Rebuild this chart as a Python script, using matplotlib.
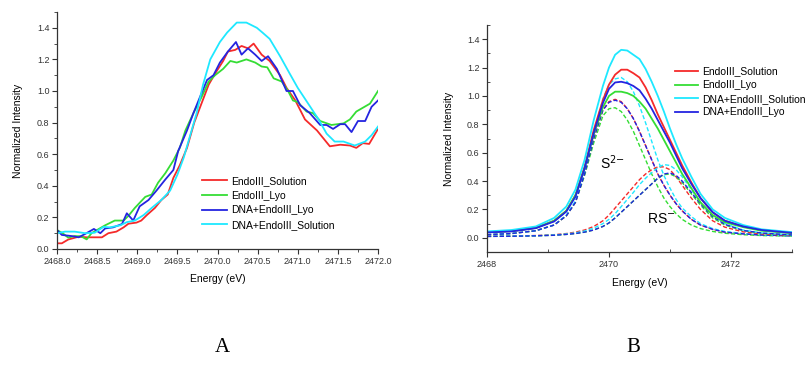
import matplotlib
matplotlib.use('Agg')
import matplotlib.pyplot as plt
from matplotlib.ticker import MultipleLocator

# --- Panel A: raw XANES spectra ------------------------------------------------
e_sol = [2468.0, 2468.06, 2468.14, 2468.27, 2468.37, 2468.47, 2468.56, 2468.64, 2468.74, 2468.83,
         2468.89, 2468.99, 2469.05, 2469.12, 2469.22, 2469.30, 2469.38, 2469.45, 2469.53, 2469.62,
         2469.71, 2469.80, 2469.89, 2469.97, 2470.07, 2470.13, 2470.22, 2470.30, 2470.38, 2470.45,
         2470.55, 2470.65, 2470.78, 2470.86, 2470.97, 2471.09, 2471.24, 2471.40, 2471.53, 2471.65,
         2471.73, 2471.81, 2471.89, 2472.0]
i_sol = [0.036, 0.036, 0.06, 0.078, 0.074, 0.074, 0.074, 0.10, 0.11, 0.137,
         0.16, 0.167, 0.18, 0.215, 0.26, 0.31, 0.345, 0.45, 0.53, 0.64,
         0.80, 0.92, 1.04, 1.11, 1.19, 1.25, 1.26, 1.285, 1.27, 1.30,
         1.23, 1.19, 1.10, 1.02, 0.94, 0.82, 0.75, 0.65, 0.66, 0.655,
         0.64, 0.67, 0.665, 0.76]

e_lyo = [2468.0, 2468.07, 2468.14, 2468.22, 2468.30, 2468.37, 2468.43, 2468.60, 2468.72, 2468.83,
         2468.89, 2468.97, 2469.10, 2469.18, 2469.26, 2469.35, 2469.45, 2469.53, 2469.60, 2469.70,
         2469.80, 2469.89, 2469.97, 2470.07, 2470.16, 2470.24, 2470.36, 2470.47, 2470.55, 2470.62,
         2470.70, 2470.80, 2470.88, 2470.94, 2471.0, 2471.11, 2471.19, 2471.28, 2471.42, 2471.57,
         2471.65, 2471.73, 2471.90, 2472.0]
i_lyo = [0.12, 0.10, 0.072, 0.082, 0.08, 0.061, 0.10, 0.15, 0.18, 0.18,
         0.21, 0.26, 0.33, 0.345, 0.42, 0.48, 0.56, 0.64, 0.75, 0.86,
         0.96, 1.06, 1.10, 1.14, 1.19, 1.18, 1.20, 1.18, 1.155, 1.15,
         1.08, 1.06, 1.0, 0.94, 0.93, 0.87, 0.86, 0.81, 0.785, 0.795,
         0.82, 0.87, 0.92, 1.0]

e_dna_lyo = [2468.0, 2468.06, 2468.18, 2468.27, 2468.35, 2468.46, 2468.54, 2468.60, 2468.70, 2468.81,
             2468.87, 2468.95, 2469.03, 2469.14, 2469.24, 2469.35, 2469.45, 2469.51, 2469.62, 2469.70,
             2469.78, 2469.87, 2469.95, 2470.03, 2470.13, 2470.23, 2470.30, 2470.38, 2470.47, 2470.55,
             2470.63, 2470.74, 2470.86, 2470.94, 2471.03, 2471.15, 2471.28, 2471.36, 2471.44, 2471.53,
             2471.59, 2471.67, 2471.75, 2471.84, 2471.92, 2472.0]
i_dna_lyo = [0.12, 0.089, 0.082, 0.074, 0.095, 0.127, 0.10, 0.13, 0.137, 0.158,
             0.226, 0.18, 0.27, 0.31, 0.37, 0.44, 0.50, 0.62, 0.75, 0.86,
             0.96, 1.07, 1.10, 1.18, 1.25, 1.31, 1.23, 1.27, 1.23, 1.19,
             1.22, 1.14, 1.0, 1.0, 0.91, 0.86, 0.785, 0.785, 0.76, 0.79,
             0.79, 0.74, 0.81, 0.81, 0.90, 0.94]

e_dna_sol = [2468.0, 2468.10, 2468.22, 2468.35, 2468.47, 2468.58, 2468.66, 2468.79, 2468.87, 2468.97,
             2469.08, 2469.18, 2469.30, 2469.41, 2469.50, 2469.58, 2469.66, 2469.74, 2469.82, 2469.91,
             2470.03, 2470.12, 2470.24, 2470.36, 2470.49, 2470.56, 2470.65, 2470.78, 2470.90, 2471.0,
             2471.13, 2471.26, 2471.36, 2471.46, 2471.57, 2471.71, 2471.84, 2471.92, 2472.0]
i_dna_sol = [0.10, 0.11, 0.11, 0.10, 0.103, 0.14, 0.137, 0.15, 0.17, 0.18,
             0.215, 0.26, 0.31, 0.37, 0.47, 0.58, 0.72, 0.86, 1.04, 1.20,
             1.31, 1.37, 1.433, 1.433, 1.40, 1.37, 1.33, 1.22, 1.11, 1.02,
             0.92, 0.82, 0.73, 0.68, 0.68, 0.655, 0.68, 0.72, 0.775]

# --- Panel B: fitted spectra and S2- / RS- components --------------------------
e_fit = [2468.0, 2468.4, 2468.8, 2469.1, 2469.3, 2469.45, 2469.6, 2469.75, 2469.9, 2470.0,
         2470.1, 2470.2, 2470.3, 2470.4, 2470.5, 2470.6, 2470.7, 2470.8, 2470.9, 2471.0,
         2471.1, 2471.2, 2471.35, 2471.5, 2471.7, 2471.9, 2472.2, 2472.5, 2473.0]

fit_sol = [0.040, 0.048, 0.070, 0.12, 0.19, 0.30, 0.50, 0.76, 0.97, 1.08,
           1.15, 1.185, 1.185, 1.16, 1.13, 1.06, 0.97, 0.87, 0.78, 0.69,
           0.60, 0.51, 0.39, 0.28, 0.18, 0.12, 0.08, 0.055, 0.035]
fit_lyo = [0.040, 0.047, 0.070, 0.12, 0.19, 0.30, 0.49, 0.73, 0.92, 1.0,
           1.03, 1.03, 1.02, 1.0, 0.96, 0.91, 0.84, 0.77, 0.69, 0.61,
           0.53, 0.45, 0.35, 0.25, 0.16, 0.11, 0.075, 0.05, 0.033]
fit_dna_sol = [0.045, 0.055, 0.08, 0.14, 0.22, 0.34, 0.55, 0.83, 1.07, 1.20,
               1.29, 1.325, 1.32, 1.29, 1.26, 1.19, 1.10, 1.0, 0.89, 0.77,
               0.66, 0.56, 0.43, 0.31, 0.20, 0.14, 0.09, 0.06, 0.04]
fit_dna_lyo = [0.038, 0.045, 0.068, 0.115, 0.185, 0.29, 0.49, 0.74, 0.95, 1.05,
               1.095, 1.10, 1.09, 1.07, 1.04, 0.98, 0.91, 0.83, 0.75, 0.67,
               0.58, 0.49, 0.38, 0.28, 0.18, 0.12, 0.08, 0.055, 0.035]

s2_sol = [0.022, 0.03, 0.05, 0.09, 0.155, 0.25, 0.45, 0.70, 0.90, 0.96,
          0.976, 0.96, 0.91, 0.84, 0.75, 0.65, 0.55, 0.45, 0.37, 0.30,
          0.24, 0.19, 0.13, 0.09, 0.06, 0.04, 0.028, 0.02, 0.014]
s2_lyo = [0.022, 0.03, 0.05, 0.09, 0.155, 0.25, 0.44, 0.67, 0.86, 0.91,
          0.917, 0.89, 0.83, 0.75, 0.65, 0.55, 0.45, 0.36, 0.28, 0.22,
          0.17, 0.13, 0.09, 0.065, 0.045, 0.032, 0.022, 0.016, 0.012]
s2_dna_sol = [0.022, 0.03, 0.05, 0.09, 0.16, 0.26, 0.46, 0.74, 0.98, 1.08,
              1.12, 1.13, 1.10, 1.03, 0.93, 0.81, 0.68, 0.55, 0.44, 0.35,
              0.27, 0.21, 0.15, 0.10, 0.065, 0.045, 0.03, 0.02, 0.014]
s2_dna_lyo = [0.022, 0.03, 0.05, 0.09, 0.155, 0.25, 0.45, 0.70, 0.90, 0.955,
              0.97, 0.955, 0.91, 0.84, 0.75, 0.65, 0.55, 0.45, 0.37, 0.30,
              0.24, 0.19, 0.13, 0.09, 0.06, 0.04, 0.028, 0.02, 0.014]

rs_sol = [0.01, 0.012, 0.016, 0.022, 0.03, 0.04, 0.055, 0.08, 0.12, 0.16,
          0.21, 0.26, 0.31, 0.36, 0.41, 0.45, 0.48, 0.50, 0.50, 0.48,
          0.43, 0.37, 0.28, 0.20, 0.12, 0.075, 0.042, 0.028, 0.017]
rs_lyo = [0.01, 0.011, 0.014, 0.018, 0.024, 0.03, 0.04, 0.055, 0.08, 0.105,
          0.14, 0.18, 0.22, 0.26, 0.30, 0.34, 0.38, 0.42, 0.445, 0.45,
          0.43, 0.39, 0.31, 0.23, 0.14, 0.09, 0.05, 0.032, 0.019]
rs_dna_sol = [0.01, 0.012, 0.015, 0.02, 0.027, 0.035, 0.048, 0.068, 0.10, 0.13,
              0.17, 0.22, 0.27, 0.32, 0.375, 0.42, 0.46, 0.495, 0.516, 0.51,
              0.48, 0.43, 0.34, 0.25, 0.16, 0.10, 0.055, 0.035, 0.02]
rs_dna_lyo = [0.01, 0.011, 0.014, 0.018, 0.024, 0.03, 0.04, 0.055, 0.08, 0.105,
              0.14, 0.18, 0.22, 0.26, 0.30, 0.34, 0.38, 0.42, 0.45, 0.457,
              0.44, 0.40, 0.32, 0.24, 0.15, 0.095, 0.052, 0.034, 0.02]

# --- Style ---------------------------------------------------------------------
RED, GREEN, BLUE, CYAN = '#f52a2a', '#35dd35', '#2424e0', '#1ee8ff'
plt.rcParams['font.family'] = ['Liberation Sans', 'DejaVu Sans']
LW = 1.3
DASH = (0, (3, 1.6))


def style_axes(ax):
    ax.spines['top'].set_visible(False)
    ax.spines['right'].set_visible(False)
    for s in ('left', 'bottom'):
        ax.spines[s].set_linewidth(0.9)
        ax.spines[s].set_color('#333333')
    ax.tick_params(which='major', direction='out', length=3.5, width=0.8,
                   labelsize=6.5, colors='#333333', pad=2)
    ax.tick_params(which='minor', direction='out', length=2, width=0.6, colors='#333333')


fig = plt.figure(figsize=(8.11, 3.65), dpi=100)

# Panel A ------------------------------------------------------------------------
ax_a = fig.add_axes([57 / 811, 1 - 249 / 365, (378 - 57) / 811, (249 - 12) / 365])
ax_a.plot(e_sol, i_sol, color=RED, lw=LW, label='EndoIII_Solution')
ax_a.plot(e_lyo, i_lyo, color=GREEN, lw=LW, label='EndoIII_Lyo')
ax_a.plot(e_dna_lyo, i_dna_lyo, color=BLUE, lw=LW, label='DNA+EndoIII_Lyo')
ax_a.plot(e_dna_sol, i_dna_sol, color=CYAN, lw=LW, label='DNA+EndoIII_Solution')
ax_a.set_xlim(2468, 2472)
ax_a.set_ylim(0, 1.5)
ax_a.xaxis.set_major_locator(MultipleLocator(0.5))
ax_a.xaxis.set_minor_locator(MultipleLocator(0.25))
ax_a.yaxis.set_major_locator(MultipleLocator(0.2))
ax_a.yaxis.set_minor_locator(MultipleLocator(0.1))
ax_a.xaxis.set_major_formatter(lambda v, p: f'{v:.1f}')
ax_a.yaxis.set_major_formatter(lambda v, p: f'{v:.1f}')
style_axes(ax_a)
ax_a.set_xlabel('Energy (eV)', fontsize=7.5, labelpad=6)
ax_a.set_ylabel('Normalized Intensity', fontsize=7.5, labelpad=10)
ax_a.legend(loc='lower left', bbox_to_anchor=(0.434, 0.058), frameon=False, fontsize=7.5,
            handlelength=2.4, handletextpad=0.4, labelspacing=0.45, borderpad=0)

# Panel B ------------------------------------------------------------------------
ax_b = fig.add_axes([487 / 811, 1 - 252 / 365, (792 - 487) / 811, (252 - 25) / 365])
for comp, col in ((s2_sol, RED), (s2_lyo, GREEN), (s2_dna_sol, CYAN), (s2_dna_lyo, BLUE),
                  (rs_sol, RED), (rs_lyo, GREEN), (rs_dna_sol, CYAN), (rs_dna_lyo, BLUE)):
    ax_b.plot(e_fit, comp, color=col, lw=1.0, ls=DASH)
ax_b.plot(e_fit, fit_sol, color=RED, lw=LW, label='EndoIII_Solution')
ax_b.plot(e_fit, fit_lyo, color=GREEN, lw=LW, label='EndoIII_Lyo')
ax_b.plot(e_fit, fit_dna_sol, color=CYAN, lw=LW, label='DNA+EndoIII_Solution')
ax_b.plot(e_fit, fit_dna_lyo, color=BLUE, lw=LW, label='DNA+EndoIII_Lyo')
ax_b.set_xlim(2468, 2473)
ax_b.set_ylim(-0.1, 1.5)
ax_b.xaxis.set_major_locator(MultipleLocator(2))
ax_b.xaxis.set_minor_locator(MultipleLocator(1))
ax_b.yaxis.set_major_locator(MultipleLocator(0.2))
ax_b.yaxis.set_minor_locator(MultipleLocator(0.1))
ax_b.yaxis.set_major_formatter(lambda v, p: f'{v:.1f}')
style_axes(ax_b)
ax_b.tick_params(which='minor', direction='in')
ax_b.set_xlabel('Energy (eV)', fontsize=7.5, labelpad=7)
ax_b.set_ylabel('Normalized Intensity', fontsize=7.5, labelpad=9)
ax_b.legend(loc='upper left', bbox_to_anchor=(0.60, 0.84), frameon=False, fontsize=7.5,
            handlelength=2.2, handletextpad=0.4, labelspacing=0.35, borderpad=0)
ax_b.text(2470.05, 0.53, 'S$^{2\\mathsf{-}}$', fontsize=10, ha='center', va='center')
ax_b.text(2470.85, 0.13, 'RS$^{\\mathsf{-}}$', fontsize=10, ha='center', va='center')

# Panel letters ----------------------------------------------------------------
fig.text(222 / 811, 1 - 348 / 365, 'A', fontsize=15, family='Liberation Serif',
         ha='center', va='center')
fig.text(633 / 811, 1 - 348 / 365, 'B', fontsize=15, family='Liberation Serif',
         ha='center', va='center')

fig.savefig('out.png', dpi=100)
